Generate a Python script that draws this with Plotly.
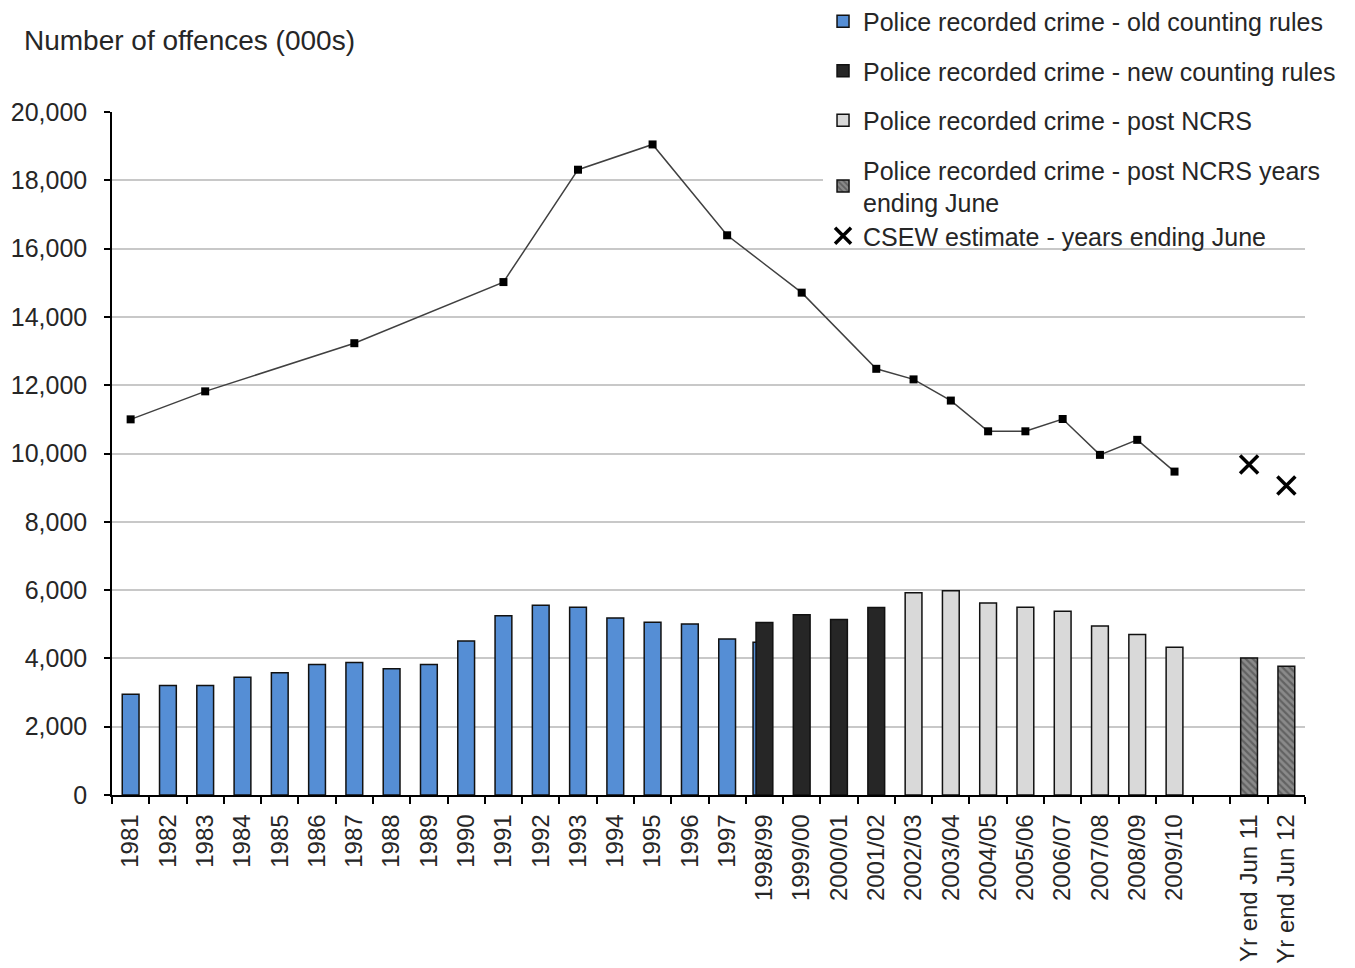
import plotly.graph_objects as go

# Category axis: calendar years, financial years, a spacer, then years ending June
years_calendar = [str(y) for y in range(1981, 1998)]
years_financial = ["1998/99", "1999/00", "2000/01", "2001/02", "2002/03", "2003/04",
                   "2004/05", "2005/06", "2006/07", "2007/08", "2008/09", "2009/10"]
spacer = [" "]
years_june = ["Yr end Jun 11", "Yr end Jun 12"]
categories = years_calendar + years_financial + spacer + years_june

# Police recorded crime (000s)
old_rules = {
    "1981": 2950, "1982": 3210, "1983": 3210, "1984": 3450, "1985": 3580,
    "1986": 3820, "1987": 3880, "1988": 3700, "1989": 3820, "1990": 4510,
    "1991": 5250, "1992": 5560, "1993": 5500, "1994": 5180, "1995": 5060,
    "1996": 5010, "1997": 4570, "1998/99": 4470,
}
new_rules = {"1998/99": 5050, "1999/00": 5280, "2000/01": 5140, "2001/02": 5490}
post_ncrs = {
    "2002/03": 5920, "2003/04": 5980, "2004/05": 5620, "2005/06": 5500,
    "2006/07": 5380, "2007/08": 4950, "2008/09": 4700, "2009/10": 4330,
}
post_ncrs_june = {"Yr end Jun 11": 4010, "Yr end Jun 12": 3770}

# Crime survey estimates (000s)
csew_annual = {
    "1981": 11000, "1983": 11820, "1987": 13230, "1991": 15020, "1993": 18310,
    "1995": 19050, "1997": 16390, "1999/00": 14710, "2001/02": 12480,
    "2002/03": 12170, "2003/04": 11550, "2004/05": 10650, "2005/06": 10650,
    "2006/07": 11010, "2007/08": 9960, "2008/09": 10400, "2009/10": 9470,
}
csew_june = {"Yr end Jun 11": 9680, "Yr end Jun 12": 9060}

y_ticks = list(range(0, 20001, 2000))


def series(d):
    return [d.get(c) for c in categories]


BAR_W = 0.45
FONT = "Liberation Sans, Arial, sans-serif"
TEXT = "#262626"

# the 1998/99 old-rules bar sits just behind the new-rules bar
old_offsets = [-0.305 if c == "1998/99" else -BAR_W / 2 for c in categories]

fig = go.Figure()

fig.add_trace(go.Bar(
    x=categories, y=series(old_rules), width=BAR_W, offset=old_offsets,
    name="Police recorded crime - old counting rules", legendgroup="a",
    marker=dict(color="#558ED5", line=dict(color="#111111", width=1.5)),
))
fig.add_trace(go.Bar(
    x=categories, y=series(new_rules), width=BAR_W,
    name="Police recorded crime - new counting rules", legendgroup="b",
    marker=dict(color="#262626", line=dict(color="#111111", width=1.5)),
))
fig.add_trace(go.Bar(
    x=categories, y=series(post_ncrs), width=BAR_W,
    name="Police recorded crime - post NCRS", legendgroup="c",
    marker=dict(color="#D9D9D9", line=dict(color="#111111", width=1.5)),
))
fig.add_trace(go.Bar(
    x=categories, y=series(post_ncrs_june), width=BAR_W,
    name="Police recorded crime - post NCRS years<br>ending June", legendgroup="d",
    marker=dict(color="#7a7a7a", line=dict(color="#111111", width=1.5),
                pattern=dict(shape="\\", fgcolor="#3a3a3a", bgcolor="#8a8a8a",
                             size=5, solidity=0.45)),
))
fig.add_trace(go.Scatter(
    x=categories, y=series(csew_annual), mode="lines+markers", connectgaps=True,
    showlegend=False,
    line=dict(color="#404040", width=1.5),
    marker=dict(symbol="square", size=8, color="#000000"),
))
fig.add_trace(go.Scatter(
    x=categories, y=series(csew_june), mode="markers",
    name="CSEW estimate - years ending June", legend="legend2",
    marker=dict(symbol="x-thin", size=18, color="#000000",
                line=dict(color="#000000", width=3.5)),
))

legend_font = dict(family=FONT, size=25, color=TEXT)

fig.update_layout(
    width=1355, height=968,
    margin=dict(l=112, r=50, t=112, b=173, autoexpand=False),
    paper_bgcolor="white", plot_bgcolor="white",
    barmode="overlay",
    font=dict(family=FONT, color=TEXT, size=22),
    showlegend=True,
    legend=dict(
        x=0.596, y=1.166, xanchor="left", yanchor="top",
        bgcolor="white", traceorder="grouped", tracegroupgap=14,
        font=legend_font, itemwidth=30,
    ),
    legend2=dict(
        x=0.596, y=(795 - 213) / 683, xanchor="left", yanchor="top",
        bgcolor="rgba(0,0,0,0)", font=legend_font, itemwidth=30,
    ),
    annotations=[dict(
        text="Number of offences (000s)", xref="paper", yref="paper",
        x=-0.0755, y=(795 - 41) / 683, xanchor="left", yanchor="middle",
        showarrow=False, font=dict(family=FONT, size=28, color=TEXT),
    )],
)

fig.update_xaxes(
    type="category", categoryorder="array", categoryarray=categories,
    range=[-0.5, len(categories) - 0.5],
    tickson="boundaries", ticks="outside", ticklen=7, tickwidth=1.5, tickcolor="#000000",
    showline=True, linecolor="#000000", linewidth=1.5,
    showgrid=False, tickangle=-90, ticklabelstandoff=8,
    tickfont=dict(family=FONT, size=24, color=TEXT),
)
fig.update_yaxes(
    range=[0, 20000], tickvals=y_ticks, tickformat=",",
    ticks="outside", ticklen=6, tickwidth=1.5, tickcolor="#000000",
    showline=True, linecolor="#000000", linewidth=1.5,
    showgrid=True, gridcolor="#c8c8c8", gridwidth=1.5, zeroline=False,
    ticklabelstandoff=12,
    tickfont=dict(family=FONT, size=25, color=TEXT),
)

fig.write_html("out.html")
